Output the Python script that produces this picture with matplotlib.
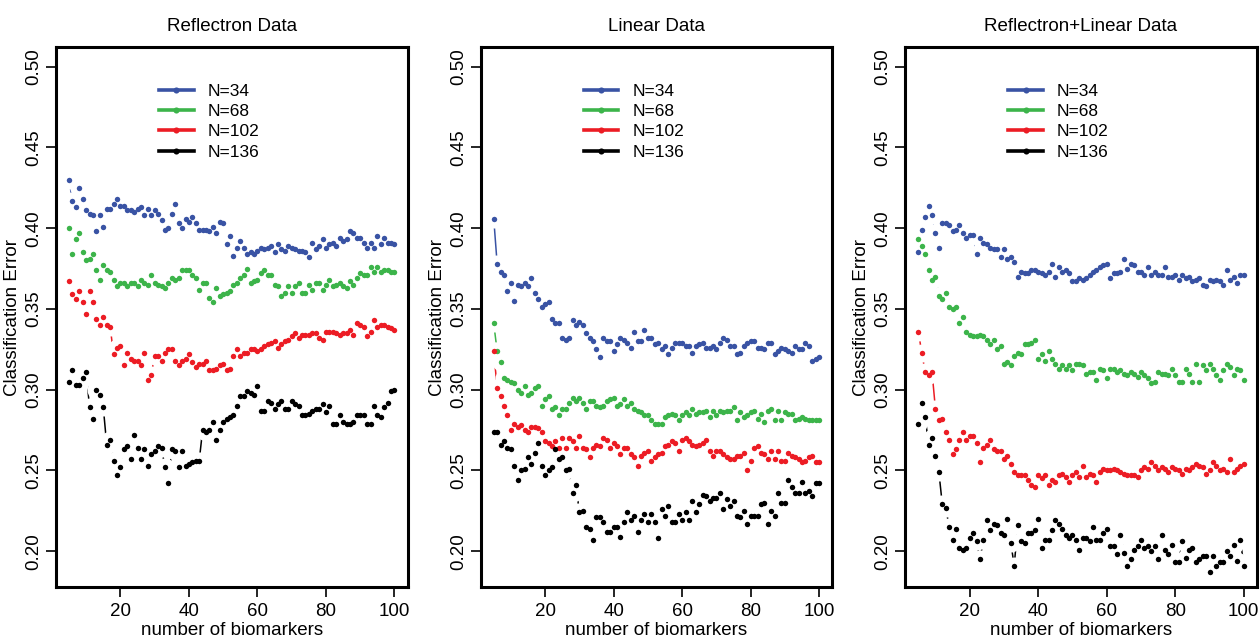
import matplotlib
matplotlib.use("Agg")
import matplotlib.pyplot as plt
from matplotlib.lines import Line2D

plt.rcParams['font.family'] = ['Liberation Sans', 'DejaVu Sans']

# ---------------- data ----------------
n_biomarkers = list(range(5, 101))
panel_titles = ["Reflectron Data", "Linear Data", "Reflectron+Linear Data"]
series_labels = ["N=34", "N=68", "N=102", "N=136"]
series_colors = ["#3953a4", "#3cb44a", "#ec1c24", "#000000"]
x_ticks = [20, 40, 60, 80, 100]
x_tick_labels = ["20", "40", "60", "80", "100"]
y_ticks = [0.20, 0.25, 0.30, 0.35, 0.40, 0.45, 0.50]
y_tick_labels = ["0.20", "0.25", "0.30", "0.35", "0.40", "0.45", "0.50"]
x_label = "number of biomarkers"
y_label = "Classification Error"

refl_n34 = [0.430,0.417,0.413,0.425,0.418,0.411,0.409,0.408,0.398,0.408,
            0.401,0.412,0.412,0.415,0.418,0.414,0.414,0.411,0.411,0.410,
            0.412,0.413,0.408,0.412,0.408,0.411,0.409,0.405,0.399,0.400,
            0.409,0.415,0.403,0.400,0.406,0.404,0.407,0.403,0.399,0.399,
            0.399,0.398,0.401,0.397,0.404,0.403,0.390,0.395,0.383,0.388,
            0.392,0.388,0.384,0.385,0.384,0.386,0.388,0.387,0.388,0.389,
            0.385,0.390,0.387,0.386,0.389,0.388,0.387,0.386,0.386,0.385,
            0.382,0.391,0.387,0.389,0.393,0.388,0.390,0.391,0.389,0.394,
            0.392,0.393,0.398,0.397,0.394,0.394,0.391,0.388,0.391,0.388,
            0.395,0.390,0.394,0.391,0.391,0.390]
refl_n68 = [0.400,0.384,0.393,0.397,0.385,0.380,0.381,0.384,0.374,0.368,
            0.377,0.374,0.373,0.368,0.364,0.366,0.366,0.364,0.366,0.366,
            0.364,0.368,0.366,0.365,0.371,0.366,0.365,0.364,0.363,0.366,
            0.369,0.368,0.369,0.374,0.374,0.374,0.371,0.369,0.362,0.366,
            0.366,0.357,0.354,0.363,0.358,0.359,0.360,0.361,0.365,0.366,
            0.369,0.371,0.375,0.366,0.367,0.368,0.372,0.374,0.371,0.371,
            0.365,0.364,0.358,0.360,0.364,0.360,0.364,0.366,0.360,0.360,
            0.365,0.362,0.366,0.366,0.362,0.365,0.368,0.364,0.365,0.366,
            0.364,0.363,0.367,0.365,0.369,0.372,0.371,0.371,0.376,0.373,
            0.376,0.373,0.374,0.374,0.373,0.373]
refl_n102 = [0.367,0.359,0.356,0.361,0.354,0.347,0.361,0.354,0.344,0.340,
             0.345,0.340,0.339,0.322,0.326,0.327,0.315,0.323,0.319,0.318,
             0.318,0.315,0.323,0.306,0.309,0.321,0.321,0.318,0.323,0.325,
             0.325,0.318,0.315,0.318,0.319,0.322,0.317,0.314,0.316,0.316,
             0.318,0.312,0.312,0.313,0.315,0.316,0.312,0.313,0.321,0.325,
             0.321,0.323,0.323,0.325,0.325,0.324,0.325,0.327,0.328,0.329,
             0.330,0.326,0.328,0.330,0.331,0.333,0.335,0.332,0.334,0.334,
             0.334,0.335,0.335,0.332,0.331,0.336,0.336,0.336,0.335,0.334,
             0.335,0.335,0.337,0.334,0.341,0.340,0.339,0.333,0.336,0.343,
             0.339,0.340,0.340,0.339,0.338,0.337]
refl_n136 = [0.305,0.312,0.303,0.303,0.307,0.311,0.289,0.282,0.300,0.297,
             0.289,0.266,0.269,0.256,0.247,0.252,0.263,0.265,0.257,0.272,
             0.264,0.257,0.263,0.253,0.260,0.262,0.265,0.264,0.252,0.242,
             0.263,0.262,0.252,0.262,0.253,0.254,0.255,0.256,0.256,0.275,
             0.274,0.275,0.280,0.269,0.275,0.280,0.282,0.283,0.284,0.290,
             0.296,0.296,0.299,0.298,0.297,0.302,0.287,0.287,0.293,0.292,
             0.288,0.291,0.293,0.288,0.288,0.293,0.291,0.290,0.284,0.284,
             0.285,0.287,0.288,0.288,0.291,0.286,0.290,0.279,0.279,0.284,
             0.280,0.279,0.279,0.280,0.284,0.284,0.284,0.279,0.279,0.290,
             0.284,0.283,0.289,0.292,0.299,0.300]

lin_n34 = [0.406,0.378,0.373,0.371,0.361,0.366,0.355,0.365,0.364,0.366,
           0.364,0.369,0.360,0.356,0.351,0.353,0.354,0.344,0.341,0.341,
           0.332,0.331,0.332,0.343,0.340,0.342,0.340,0.335,0.332,0.330,
           0.325,0.320,0.332,0.330,0.330,0.324,0.328,0.332,0.331,0.329,
           0.326,0.336,0.330,0.330,0.337,0.332,0.332,0.328,0.329,0.325,
           0.327,0.322,0.326,0.329,0.329,0.329,0.327,0.327,0.323,0.327,
           0.328,0.329,0.326,0.326,0.327,0.325,0.329,0.332,0.331,0.327,
           0.327,0.322,0.323,0.327,0.329,0.330,0.330,0.326,0.326,0.325,
           0.329,0.329,0.322,0.324,0.326,0.325,0.324,0.323,0.327,0.325,
           0.325,0.329,0.327,0.318,0.319,0.320]
lin_n68 = [0.341,0.324,0.317,0.307,0.306,0.305,0.304,0.300,0.298,0.302,
           0.297,0.298,0.301,0.302,0.290,0.294,0.296,0.288,0.289,0.284,
           0.288,0.288,0.292,0.295,0.293,0.295,0.292,0.288,0.293,0.293,
           0.290,0.289,0.290,0.293,0.294,0.295,0.290,0.291,0.294,0.290,
           0.292,0.288,0.287,0.286,0.284,0.284,0.281,0.279,0.279,0.279,
           0.283,0.284,0.285,0.284,0.281,0.284,0.286,0.284,0.288,0.285,
           0.286,0.286,0.287,0.283,0.287,0.284,0.287,0.286,0.287,0.287,
           0.289,0.281,0.286,0.283,0.284,0.286,0.287,0.282,0.285,0.280,
           0.287,0.288,0.281,0.287,0.281,0.286,0.285,0.285,0.281,0.282,
           0.283,0.282,0.281,0.281,0.281,0.281]
lin_n102 = [0.324,0.301,0.296,0.290,0.284,0.275,0.279,0.277,0.278,0.275,
            0.274,0.277,0.277,0.276,0.274,0.268,0.267,0.265,0.268,0.264,
            0.270,0.264,0.270,0.268,0.264,0.271,0.264,0.263,0.258,0.264,
            0.266,0.265,0.270,0.269,0.264,0.267,0.265,0.260,0.264,0.264,
            0.260,0.258,0.253,0.259,0.261,0.262,0.256,0.258,0.260,0.261,
            0.265,0.266,0.268,0.267,0.262,0.269,0.270,0.268,0.266,0.265,
            0.266,0.267,0.269,0.262,0.259,0.262,0.262,0.260,0.258,0.257,
            0.257,0.259,0.259,0.261,0.250,0.256,0.264,0.265,0.261,0.260,
            0.257,0.262,0.257,0.262,0.256,0.256,0.261,0.259,0.258,0.257,
            0.255,0.256,0.258,0.259,0.255,0.255]
lin_n136 = [0.274,0.274,0.266,0.268,0.264,0.263,0.253,0.244,0.250,0.251,
            0.258,0.254,0.261,0.267,0.253,0.247,0.250,0.252,0.263,0.257,
            0.258,0.250,0.251,0.236,0.241,0.224,0.225,0.215,0.214,0.207,
            0.221,0.221,0.218,0.212,0.212,0.215,0.215,0.209,0.218,0.224,
            0.219,0.222,0.212,0.219,0.223,0.218,0.223,0.218,0.208,0.226,
            0.222,0.228,0.218,0.218,0.223,0.219,0.224,0.219,0.231,0.224,
            0.229,0.235,0.234,0.231,0.233,0.233,0.236,0.226,0.232,0.228,
            0.231,0.222,0.221,0.225,0.217,0.222,0.222,0.222,0.229,0.230,
            0.217,0.225,0.222,0.236,0.230,0.230,0.244,0.240,0.236,0.236,
            0.243,0.236,0.237,0.234,0.242,0.242]

both_n34 = [0.385,0.399,0.407,0.414,0.408,0.397,0.388,0.403,0.403,0.402,
            0.398,0.399,0.402,0.397,0.394,0.396,0.396,0.384,0.394,0.391,
            0.390,0.388,0.387,0.387,0.382,0.387,0.381,0.382,0.379,0.370,
            0.373,0.372,0.372,0.374,0.374,0.373,0.372,0.371,0.373,0.378,
            0.370,0.376,0.373,0.374,0.372,0.367,0.367,0.369,0.368,0.369,
            0.371,0.373,0.374,0.376,0.377,0.378,0.369,0.372,0.372,0.373,
            0.381,0.375,0.378,0.377,0.373,0.373,0.371,0.376,0.371,0.373,
            0.371,0.371,0.376,0.370,0.370,0.371,0.368,0.371,0.369,0.370,
            0.367,0.368,0.369,0.365,0.364,0.368,0.367,0.368,0.367,0.365,
            0.374,0.368,0.370,0.366,0.371,0.371]
both_n68 = [0.393,0.389,0.384,0.374,0.368,0.370,0.358,0.356,0.360,0.351,
            0.350,0.351,0.341,0.345,0.336,0.334,0.333,0.333,0.334,0.333,
            0.331,0.328,0.331,0.325,0.327,0.316,0.317,0.315,0.321,0.323,
            0.322,0.328,0.328,0.329,0.331,0.319,0.322,0.318,0.324,0.319,
            0.316,0.313,0.315,0.313,0.315,0.312,0.316,0.316,0.315,0.310,
            0.311,0.311,0.306,0.313,0.312,0.307,0.313,0.313,0.311,0.312,
            0.310,0.309,0.311,0.310,0.308,0.311,0.309,0.307,0.304,0.305,
            0.311,0.310,0.310,0.309,0.313,0.309,0.305,0.305,0.313,0.310,
            0.305,0.316,0.305,0.315,0.312,0.316,0.313,0.309,0.306,0.312,
            0.316,0.314,0.309,0.313,0.312,0.306]
both_n102 = [0.336,0.323,0.311,0.309,0.311,0.288,0.281,0.282,0.274,0.269,
             0.260,0.263,0.269,0.274,0.269,0.271,0.271,0.267,0.255,0.264,
             0.266,0.269,0.263,0.262,0.262,0.257,0.259,0.254,0.249,0.247,
             0.247,0.247,0.244,0.241,0.240,0.247,0.245,0.247,0.241,0.244,
             0.243,0.247,0.248,0.246,0.243,0.247,0.249,0.246,0.253,0.246,
             0.248,0.247,0.243,0.249,0.251,0.250,0.250,0.251,0.250,0.249,
             0.248,0.247,0.247,0.247,0.246,0.250,0.252,0.251,0.255,0.253,
             0.250,0.252,0.251,0.249,0.252,0.251,0.250,0.248,0.251,0.250,
             0.252,0.254,0.253,0.252,0.248,0.250,0.255,0.253,0.250,0.251,
             0.249,0.257,0.249,0.251,0.253,0.254]
both_n136 = [0.279,0.292,0.283,0.266,0.270,0.259,0.249,0.229,0.227,0.215,
             0.207,0.214,0.202,0.201,0.202,0.208,0.211,0.206,0.195,0.207,
             0.219,0.213,0.217,0.216,0.211,0.210,0.220,0.205,0.191,0.216,
             0.206,0.205,0.211,0.211,0.213,0.220,0.202,0.207,0.207,0.213,
             0.219,0.217,0.214,0.210,0.208,0.210,0.207,0.201,0.208,0.208,
             0.206,0.215,0.207,0.207,0.211,0.214,0.203,0.203,0.198,0.210,
             0.199,0.191,0.195,0.201,0.203,0.207,0.202,0.203,0.200,0.203,
             0.195,0.210,0.201,0.198,0.204,0.193,0.193,0.206,0.196,0.201,
             0.202,0.193,0.195,0.197,0.197,0.187,0.197,0.191,0.193,0.193,
             0.200,0.197,0.204,0.194,0.207,0.191]

panels = [
    [refl_n34, refl_n68, refl_n102, refl_n136],
    [lin_n34, lin_n68, lin_n102, lin_n136],
    [both_n34, both_n68, both_n102, both_n136],
]

# ---------------- figure ----------------
W, H = 1260, 637
fig = plt.figure(figsize=(W / 100, H / 100), dpi=100)
lefts_px = [56, 480.7, 905.3]
top_px, bottom_px, width_px = 46.7, 587.3, 351.5

for p, (left_px, title, series) in enumerate(zip(lefts_px, panel_titles, panels)):
    ax = fig.add_axes([left_px / W, 1 - bottom_px / H, width_px / W,
                       (bottom_px - top_px) / H])
    # connecting lines (R type="b": gaps around points)
    for ys, col in zip(series, series_colors):
        ax.plot(n_biomarkers, ys, '-', color=col, lw=1.1, zorder=1.5)
    for ys in series:
        ax.plot(n_biomarkers, ys, 'o', color='white', ms=13, mew=0,
                zorder=2)
    for ys, col in zip(series, series_colors):
        ax.plot(n_biomarkers, ys, 'o', color=col, ms=3.9, mew=0, zorder=3)

    ax.set_xlim(1.2, 103.8)
    ax.set_ylim(0.1776, 0.5124)
    ax.set_xticks(x_ticks)
    ax.set_xticklabels(x_tick_labels)
    ax.set_yticks(y_ticks)
    ax.set_yticklabels(y_tick_labels, rotation=90, va='center')
    ax.tick_params(direction='out', length=7, width=1.2, labelsize=13.5,
                   pad=3, color='black')
    ax.tick_params(axis='x', pad=4.5)
    for sp in ax.spines.values():
        sp.set_linewidth(2.2)
    ax.set_title(title, fontsize=13.5, pad=11)
    ax.set_xlabel(x_label, fontsize=13.5, labelpad=1.5)
    ax.set_ylabel(y_label, fontsize=13.5, labelpad=3)

    handles = [Line2D([], [], color=c, lw=2.6, marker='o', ms=4.4, mew=0)
               for c in series_colors]
    ax.legend(handles, series_labels, loc='upper left',
              bbox_to_anchor=(0.293, 0.932), frameon=False, fontsize=12.5,
              handlelength=2.0, handletextpad=0.8, labelspacing=0.3,
              borderpad=0, borderaxespad=0, numpoints=1)

fig.savefig("out.png", dpi=100)
